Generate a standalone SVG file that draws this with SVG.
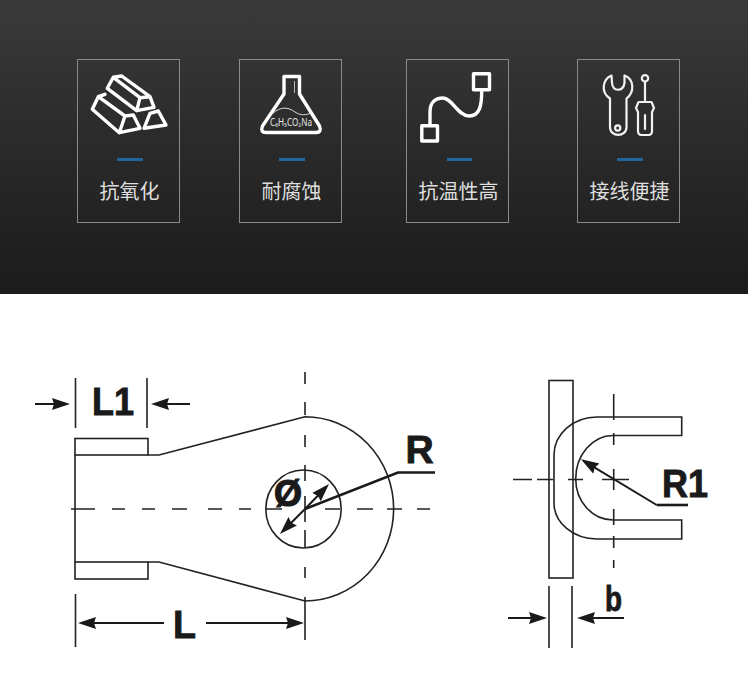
<svg xmlns="http://www.w3.org/2000/svg" width="748" height="678" viewBox="0 0 748 678">
<defs>
<linearGradient id="bg" x1="0" y1="0" x2="0" y2="1"><stop offset="0" stop-color="#3a3a3a"/><stop offset="0.5" stop-color="#2a2a2a"/><stop offset="1" stop-color="#1b1b1b"/></linearGradient>
<marker id="ah" markerUnits="userSpaceOnUse" markerWidth="20" markerHeight="14" refX="14" refY="7" orient="auto" viewBox="0 0 20 14"><path d="M0,1 L18,7 L0,13 L2,7 Z" fill="#1a1a1a"/></marker>
</defs>
<style>
.card{fill:none;stroke:#8a8a8a;stroke-width:1}
.bar{fill:#1f66a0}
.lbl{font-family:"Noto Sans CJK SC","Liberation Sans",sans-serif;font-size:20px;fill:#dedede;text-anchor:middle}
.ic{fill:none;stroke:#fff;stroke-width:3.4;stroke-linejoin:round;stroke-linecap:round}
.ic2{fill:none;stroke:#f2f2f2;stroke-width:2.2;stroke-linejoin:round;stroke-linecap:round}
.ln{fill:none;stroke:#222;stroke-width:1.6}
.dash{fill:none;stroke:#222;stroke-width:1.6}
.dim{fill:none;stroke:#1a1a1a;stroke-width:2;marker-end:url(#ah)}
.lead{fill:none;stroke:#1a1a1a;stroke-width:2.6}
.big{font-family:"Liberation Sans",Arial,sans-serif;font-weight:700;font-size:39px;fill:#1a1a1a;stroke:#1a1a1a;stroke-width:0.9}
</style>
<rect width="748" height="294" fill="url(#bg)"/>
<rect y="294" width="748" height="384" fill="#fff"/>

<g id="card-oxidation">
<rect class="card" x="77.5" y="59.5" width="102" height="163"/>
<g class="ic">
<path d="M107.3,88.3 L113.3,77.3 L121.7,76 L150,96.7 L154,107.3 L136.7,110.7 Z M113.3,77.3 L140,97.7 L150,96.7 M140,97.7 L136.7,110.7"/>
<path d="M105,94.3 L98.3,96.7 L92.3,109.3 L119.3,132.7 L140,128.3 L133.3,115 L125,116 L98.3,96.7 M125,116 L119.3,132.7"/>
<path d="M144,128.3 L150,113.3 L158.3,111 L166,125 Z"/>
</g>
<rect class="bar" x="117" y="158" width="26" height="3"/>
<text class="lbl" x="129.5" y="199">抗氧化</text>
</g>

<g id="card-corrosion">
<rect class="card" x="239.5" y="59.5" width="102" height="163"/>
<path class="ic" d="M284,76.5 H299.5 V94 L319.5,126 Q322,132.5 316,132.5 H266 Q260,132.5 262.5,126 L284,94 Z"/>
<path d="M294.5,81 V93" fill="none" stroke="#bbb" stroke-width="1"/>
<path d="M272,114 C281,106 288,107 295,112 C301,116 306,115 311,113" fill="none" stroke="#ddd" stroke-width="1"/>
<text x="291" y="126" text-anchor="middle" font-family="Noto Sans,DejaVu Sans,sans-serif" font-size="10" fill="#e6e6e6" textLength="42" lengthAdjust="spacingAndGlyphs">C₆H₅CO₂Na</text>
<rect class="bar" x="279" y="158" width="26" height="3"/>
<text class="lbl" x="291.5" y="199">耐腐蚀</text>
</g>

<g id="card-temperature">
<rect class="card" x="406.5" y="59.5" width="102" height="163"/>
<g class="ic" stroke-linecap="butt">
<rect x="473.5" y="73.7" width="16" height="16"/>
<rect x="421.8" y="125.8" width="15.7" height="15.2"/>
<path d="M430,124 V112 C430,101 437,98 443,98 C452,98 458,116 469,116 C480,116 481.7,105 481.7,91"/>
</g>
<rect class="bar" x="447" y="158" width="25" height="3"/>
<text class="lbl" x="458.5" y="199">抗温性高</text>
</g>

<g id="card-wiring">
<rect class="card" x="577.5" y="59.5" width="102" height="163"/>
<g class="ic2">
<path d="M611.5,75.5 C603,79 600,92 610,98.5 V127 C610,137.5 626.5,137.5 626.5,127 V98.5 C635,92 634,79 624.5,75.5 L624.5,83 C623,92 613,92 612,83 Z"/>
<circle cx="617.7" cy="128" r="2.6"/>
<circle cx="645" cy="78.3" r="3.2"/>
<path d="M645,82 V102"/>
<path d="M638.5,102 H651.5 L654,108 L652,112 V131 Q652,135 648.5,135 H641.5 Q638,135 638,131 V112 L636,108 Z"/>
<path d="M645,115 V129"/>
</g>
<rect class="bar" x="617" y="158" width="26" height="3"/>
<text class="lbl" x="629.5" y="199">接线便捷</text>
</g>

<g id="front-view">
<rect class="ln" x="75" y="438.5" width="73" height="16.5"/>
<rect class="ln" x="75" y="562" width="73" height="17"/>
<path class="ln" d="M75,455 V562 M148,455 H159 L305,416.7 A88.5,92 0 0 1 305,601 L159,562 H148"/>
<ellipse class="ln" cx="303.5" cy="509" rx="37.7" ry="39"/>
<text class="big" x="274" y="506" style="font-size:36px;stroke-width:1.2">Ø</text>
<text class="big" x="92" y="415" textLength="42" lengthAdjust="spacingAndGlyphs">L1</text>
<text class="big" x="173" y="638" textLength="23" lengthAdjust="spacingAndGlyphs">L</text>
<text class="big" x="405.5" y="463">R</text>
</g>

<g id="side-view">
<rect class="ln" x="549" y="380.5" width="24" height="197.5"/>
<path class="ln" d="M681.7,417 H597 A43,38 0 0 0 554,455 V503 A43,36 0 0 0 597,539 H681.7 V520 H613 A37.5,41 0 0 1 575.7,479 A37.5,43.5 0 0 1 613,435.5 H681.7 Z"/>
<text class="big" x="662" y="497" textLength="46" lengthAdjust="spacingAndGlyphs">R1</text>
<text class="big" x="605" y="611" textLength="17" lengthAdjust="spacingAndGlyphs" style="font-size:35px">b</text>
</g>

<g id="connectors">
<path class="dash" d="M71,509 H95 M112,509 H125 M142,509 H155 M172,509 H187 M208,509 H222 M239,509 H251 M266,509 H282 M325,509 H340 M357,509 H373 M387,509 H402 M417,509 H430"/>
<path class="dash" d="M305,372 V384 M305,402 V415 M305,435 V447 M305,465 V481 M305,496 V522 M305,530 V547 M305,567 V578 M305,597 V640"/>
<path class="dash" d="M513,479.5 H532 M537,479.5 H553 M568,479.5 H583 M602,479.5 H629"/>
<path class="dash" d="M613.7,394 V420 M613.7,433 V445 M613.7,469 V490 M613.7,509 V525 M613.7,536 V548 M613.7,560 V568"/>
<path class="ln" d="M75.5,378 V428 M147,378 V428 M75.5,594 V647 M549,586 V648 M572,586 V648"/>
<path class="dim" d="M35,404 H66"/>
<path class="dim" d="M190,404 H155"/>
<path class="dim" d="M164,623 H82"/>
<path class="dim" d="M206,623 H300"/>
<path class="dim" d="M305,509 L326.2,487"/>
<path class="dim" d="M305,509 L282.8,531.2"/>
<path class="dim" d="M508,618 H543"/>
<path class="dim" d="M624,618 H581"/>
<path class="lead" d="M305,509 L398,472.5 H435"/>
<path class="lead" d="M688,505 H656.7"/>
<path class="dim" d="M656.7,505 L584.4,461.4"/>
</g>
</svg>
